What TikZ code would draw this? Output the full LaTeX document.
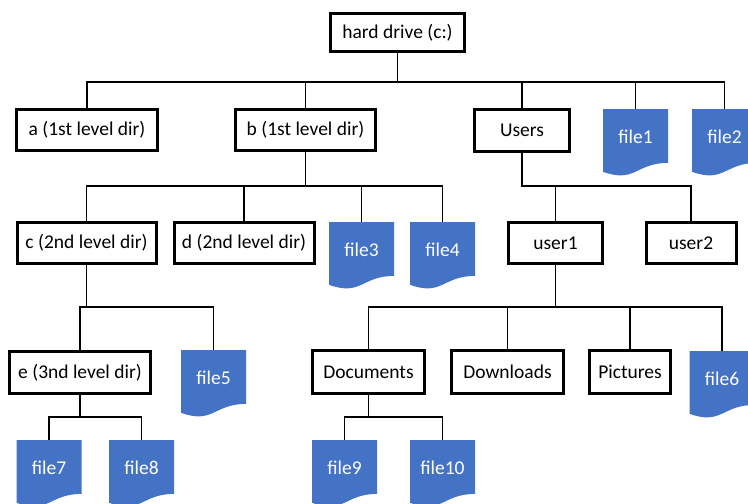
\documentclass[tikz,border=0pt]{standalone}
\usepackage{fontspec}
\newfontfamily\carlito{Carlito}
\definecolor{fileblue}{HTML}{4472C4}
\tikzset{
  x=1pt, y=-1pt,
  dirbox/.style={draw=black, line width=3pt, fill=white, inner sep=0pt,
    font=\carlito\fontsize{19.5}{23}\selectfont, text=black},
  filebox/.style={anchor=north, minimum width=65pt, minimum height=67pt, inner sep=0pt,
    text height=13pt, text depth=12pt,
    font=\carlito\fontsize{19.5}{23}\selectfont, text=white,
    path picture={
      \fill[fileblue] (path picture bounding box.north west)
        -- ([shift={(65pt,0pt)}]path picture bounding box.north west)
        -- ([shift={(65pt,-53.7pt)}]path picture bounding box.north west)
        .. controls ([shift={(32.5pt,-53.7pt)}]path picture bounding box.north west)
        and ([shift={(32.5pt,-74.2pt)}]path picture bounding box.north west)
        .. ([shift={(0pt,-62.6pt)}]path picture bounding box.north west) -- cycle;
    }},
  conn/.style={draw=black, line width=1.8pt}
}
\begin{document}
\begin{tikzpicture}
\useasboundingbox (0,0) rectangle (748,504);
\fill[white] (0,0) rectangle (748,504);
% bus levels
\coordinate (y1) at (0,82);
\coordinate (y2) at (0,186);
\coordinate (y3) at (0,307);
\coordinate (y4) at (0,417);
% directory boxes
\node[dirbox, minimum width=134pt, minimum height=38pt] (hd) at (397.5,32.5) {hard drive (c:)};
\node[dirbox, minimum width=141pt, minimum height=41pt] (a) at (87,130) {a (1st level dir)};
\node[dirbox, minimum width=140pt, minimum height=41pt] (b) at (305.5,130) {b (1st level dir)};
\node[dirbox, minimum width=95pt, minimum height=42pt] (users) at (522,130.5) {Users};
\node[dirbox, minimum width=139pt, minimum height=41pt] (c) at (86.5,243) {c (2nd level dir)};
\node[dirbox, minimum width=140pt, minimum height=41pt] (d) at (244,243) {d (2nd level dir)};
\node[dirbox, minimum width=94pt, minimum height=41pt] (user1) at (555.5,243) {user1};
\node[dirbox, minimum width=90pt, minimum height=41pt] (user2) at (691,243) {user2};
\node[dirbox, minimum width=141pt, minimum height=42pt] (e) at (80,372.5) {e (3nd level dir)};
\node[dirbox, minimum width=112pt, minimum height=43pt] (docs) at (368.5,372) {Documents};
\node[dirbox, minimum width=112pt, minimum height=43pt] (down) at (507.5,372) {Downloads};
\node[dirbox, minimum width=81pt, minimum height=43pt] (pics) at (630,372) {Pictures};
% files
\node[filebox] (f1) at (635.5,109) {file1};
\node[filebox] (f2) at (724.5,109) {file2};
\node[filebox] (f3) at (361.5,222) {file3};
\node[filebox] (f4) at (442.5,222) {file4};
\node[filebox] (f5) at (213.5,350) {file5};
\node[filebox] (f6) at (722,351) {file6};
\node[filebox] (f7) at (49,440) {file7};
\node[filebox] (f8) at (141.5,440) {file8};
\node[filebox] (f9) at (344.5,440) {file9};
\node[filebox] (f10) at (442.5,440) {file10};
% connectors
\foreach \ch in {a,b,users,f1,f2}
  \draw[conn] (hd.south) |- (\ch.north |- y1) -- (\ch.north);
\foreach \ch in {c,d,f3,f4}
  \draw[conn] (b.south) |- (\ch.north |- y2) -- (\ch.north);
\foreach \ch in {user1,user2}
  \draw[conn] (users.south) |- (\ch.north |- y2) -- (\ch.north);
\foreach \ch in {e,f5}
  \draw[conn] (c.south) |- (\ch.north |- y3) -- (\ch.north);
\foreach \ch in {docs,down,pics,f6}
  \draw[conn] (user1.south) |- (\ch.north |- y3) -- (\ch.north);
\foreach \ch in {f7,f8}
  \draw[conn] (e.south) |- (\ch.north |- y4) -- (\ch.north);
\foreach \ch in {f9,f10}
  \draw[conn] (docs.south) |- (\ch.north |- y4) -- (\ch.north);
\end{tikzpicture}
\end{document}
